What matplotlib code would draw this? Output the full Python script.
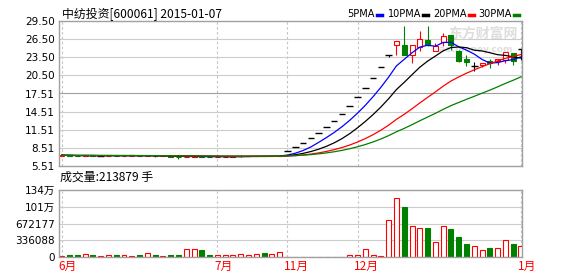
import matplotlib
matplotlib.use('Agg')
import matplotlib.pyplot as plt
from matplotlib.patches import Rectangle
from matplotlib.lines import Line2D
import numpy as np
import pandas as pd

plt.rcParams['font.family'] = ['Noto Sans CJK SC', 'DejaVu Sans']

title = '中纺投资[600061] 2015-01-07'
vol_title = '成交量:213879 手'

# daily bars (index 0 = first bar of 6月)
opens = [7.24, 7.29, 7.24, 7.21, 7.25, 7.22, 7.22, 7.24, 7.21, 7.23,
         7.24, 7.20, 7.22, 7.11, 7.13, 7.08, 7.02, 7.06, 7.10, 7.05,
         7.03, 7.05, 7.07, 7.09, 7.12, 7.13, 7.16, 7.13, 7.16,
         7.94, 8.65, 9.36, 10.14, 10.97, 11.91, 12.91, 14.11, 15.44, 16.88, 18.41, 20.07, 21.84,
         23.92, 25.48, 25.58, 23.83, 25.15, 26.41, 24.49, 26.03, 27.13, 24.49,
         23.26, 22.01, 22.17, 22.93, 22.83, 23.10, 24.21, 24.92]
highs = [7.33, 7.30, 7.25, 7.34, 7.28, 7.24, 7.26, 7.25, 7.25, 7.33,
         7.25, 7.26, 7.22, 7.16, 7.14, 7.09, 7.32, 7.30, 7.18, 7.07,
         7.08, 7.10, 7.11, 7.30, 7.16, 7.18, 7.17, 7.18, 7.25,
         7.94, 8.65, 9.36, 10.14, 10.97, 11.91, 12.91, 14.11, 15.44, 16.88, 18.41, 20.07, 21.84,
         23.92, 26.14, 28.75, 25.48, 27.90, 28.75, 25.86, 27.51, 27.13, 24.70,
         23.83, 22.67, 22.55, 23.26, 23.26, 24.32, 24.21, 24.92]
lows = [7.20, 7.20, 7.18, 7.19, 7.18, 7.20, 7.20, 7.19, 7.19, 7.21,
        7.17, 7.18, 7.08, 7.09, 7.05, 6.75, 7.00, 7.04, 7.03, 7.00,
        7.01, 7.03, 7.05, 7.07, 7.10, 7.11, 7.10, 7.11, 7.14,
        7.94, 8.65, 9.36, 10.14, 10.97, 11.91, 12.91, 14.11, 15.44, 16.88, 18.41, 20.07, 21.84,
        23.49, 23.92, 23.83, 22.55, 24.49, 25.30, 24.49, 25.31, 24.75, 22.70,
        22.01, 21.18, 21.84, 21.72, 22.27, 22.55, 22.27, 23.10]
closes = [7.30, 7.24, 7.21, 7.25, 7.22, 7.22, 7.24, 7.21, 7.23, 7.24,
          7.20, 7.23, 7.12, 7.13, 7.08, 7.02, 7.06, 7.10, 7.05, 7.03,
          7.05, 7.07, 7.09, 7.12, 7.13, 7.16, 7.13, 7.16, 7.22,
          7.94, 8.65, 9.36, 10.14, 10.97, 11.91, 12.91, 14.11, 15.44, 16.88, 18.41, 20.07, 21.84,
          23.92, 26.14, 23.83, 25.48, 26.52, 25.48, 25.31, 26.97, 25.58, 22.83,
          22.72, 22.01, 22.55, 22.55, 23.26, 24.32, 22.83, 24.92]
volumes = [14000, 40000, 40000, 60000, 40000, 14000, 34000, 34000, 34000, 14000,
           40000, 75000, 40000, 14000, 40000, 40000, 155000, 155000, 141000, 40000,
           34000, 34000, 34000, 54000, 34000, 60000, 80000, 60000, 100000,
           10000, 10000, 10000, 10000, 10000, 10000, 10000, 10000, 34000, 34000, 167000, 34000, 14000,
           752000, 1175000, 994000, 631000, 591000, 578000, 296000, 619000, 558000, 397000,
           256000, 228000, 147000, 175000, 187000, 349000, 256000, 213879]

price_labels = ['5.51', '8.51', '11.51', '14.51', '17.51', '20.50', '23.50', '26.50', '29.50']
vol_labels = ['0', '336088', '672177', '101万', '134万']
vol_max = 1344354
month_pos = [0, 20, 29, 38, 59]
month_labels = ['6月', '7月', '11月', '12月', '1月']
ma_names = ['5PMA', '10PMA', '20PMA', '30PMA']
ma_periods = [5, 10, 20, 30]
ma_colors = ['#0000ff', '#000000', '#ff0000', '#008000']

RED = '#ff0000'
GREEN = '#008000'
W, H = 578, 276

fig = plt.figure(figsize=(W / 100, H / 100), dpi=100)
fig.patch.set_facecolor('white')

def px_axes(x0, y0, x1, y1):
    return fig.add_axes([x0 / W, 1 - y1 / H, (x1 - x0) / W, (y1 - y0) / H])

ax = px_axes(59, 21, 522, 166)
axv = px_axes(59, 190, 522, 257)

n = len(closes)
x = np.arange(n)
bw = 0.64

for a in (ax, axv):
    a.set_xlim(-0.35, 59.13)
    for s in a.spines.values():
        s.set_color('#a0a0a0')
        s.set_linewidth(1)
    a.set_xticks([])
    a.tick_params(axis='y', length=0, pad=3, labelsize=7.5)
    for p in month_pos:
        a.axvline(p, color='#c4c4c4', lw=0.8, ls=(0, (2.2, 2.2)), zorder=0)

# price panel
ticks = np.linspace(5.51, 29.50, 9)
ax.set_ylim(5.51, 29.50)
ax.set_yticks(ticks)
ax.set_yticklabels(price_labels, family=['DejaVu Sans'])
for k, t in enumerate(ticks[1:-1], start=1):
    ax.axhline(t, color='#a0a0a0' if k == 4 else '#cccccc', lw=0.8, zorder=0)

ax.text(0.915, 0.915, '东方财富网', transform=ax.transAxes, color='#dedede',
        fontsize=10, fontweight='bold', ha='center', va='center', zorder=0)
ax.text(0.895, 0.805, 'eastmoney.com', transform=ax.transAxes, color='#dedede',
        fontsize=6.5, fontweight='bold', ha='center', va='center', zorder=0,
        family=['DejaVu Sans'])

for i in range(n):
    o, h, l, c = opens[i], highs[i], lows[i], closes[i]
    if c > o:
        col = RED
        ax.vlines(i, l, h, color=col, lw=0.8, zorder=2)
        ax.add_patch(Rectangle((i - bw / 2, o), bw, c - o, facecolor='white',
                               edgecolor=col, lw=0.8, zorder=2.5))
    elif c < o:
        col = GREEN
        ax.vlines(i, l, h, color=col, lw=0.8, zorder=2)
        ax.add_patch(Rectangle((i - bw / 2, c), bw, o - c, facecolor=col,
                               edgecolor=col, lw=0.8, zorder=2.5))
    else:
        ax.vlines(i, l, h, color='black', lw=0.8, zorder=2)
        ax.hlines(c, i - 0.42, i + 0.42, color='black', lw=1.0, zorder=2.5)

close_s = pd.Series(closes)
for per, col in zip(ma_periods, ma_colors):
    ma = close_s.rolling(per, min_periods=1).mean()
    ax.plot(x, ma, color=col, lw=0.9, zorder=3)

# volume panel
axv.set_ylim(0, vol_max)
vt = np.linspace(0, vol_max, 5)
axv.set_yticks(vt)
axv.set_yticklabels(vol_labels, family=['DejaVu Sans', 'Noto Sans CJK SC'])
for t in vt[1:-1]:
    axv.axhline(t, color='#cccccc', lw=0.8, zorder=0)

for i in range(n):
    if closes[i] >= opens[i]:
        axv.add_patch(Rectangle((i - bw / 2, 0), bw, volumes[i], facecolor='white',
                                edgecolor=RED, lw=0.8, zorder=2))
    else:
        axv.add_patch(Rectangle((i - bw / 2, 0), bw, volumes[i], facecolor=GREEN,
                                edgecolor=GREEN, lw=0.8, zorder=2))

for p, lab in zip(month_pos, month_labels):
    axv.text(p - 0.4, -0.04, lab, transform=axv.get_xaxis_transform(),
             ha='left', va='top', color=RED, fontsize=8.5)

# titles and legend
fig.text(62 / W, 1 - 14 / H, title, ha='left', va='center', fontsize=8.6)
fig.text(60 / W, 1 - 177 / H, vol_title, ha='left', va='center', fontsize=8.6)

dash_x = [377, 423, 469, 514]
for name, col, dx in zip(ma_names, ma_colors, dash_x):
    fig.text((dx - 2) / W, 1 - 14 / H, name, ha='right', va='center',
             fontsize=7, family=['DejaVu Sans'])
    fig.add_artist(Line2D([dx / W, (dx + 5) / W], [1 - 15 / H, 1 - 15 / H],
                          transform=fig.transFigure, color=col, lw=2.5))

fig.savefig('out.png', dpi=100)
